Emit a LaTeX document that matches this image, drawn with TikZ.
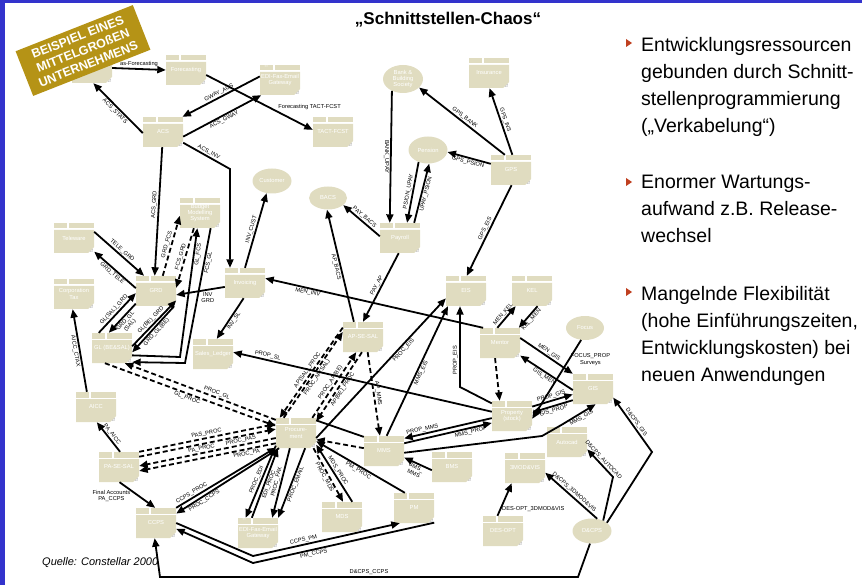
\documentclass[tikz,border=0pt]{standalone}
\usepackage{fontspec}
\setmainfont{Liberation Sans}
\usetikzlibrary{shapes.geometric,arrows.meta,positioning}
\definecolor{appbeige}{RGB}{224,220,192}
\definecolor{bannergold}{RGB}{181,147,22}
\definecolor{frameblue}{RGB}{51,51,204}
\definecolor{bulletred}{RGB}{192,64,32}
\newcommand\appfont{\fontsize{5.8}{6.3}\selectfont}
\newcommand\lblfont{\fontsize{5.7}{6.2}\selectfont}

\begin{document}
\begin{tikzpicture}[x=1pt,y=-1pt,
	app/.style={minimum width=40pt,minimum height=30pt,inner sep=0pt,text=white,font=\appfont,align=center,
		path picture={
			\fill[appbeige] ([yshift=-7pt]path picture bounding box.north west) -- ([yshift=-7pt]path picture bounding box.north east)
			-- ([yshift=6pt]path picture bounding box.south east) -- ([xshift=-6pt]path picture bounding box.south east)
			-- (path picture bounding box.south west) -- cycle;
			\fill[appbeige] (path picture bounding box.north west) rectangle ([xshift=13pt,yshift=-5.5pt]path picture bounding box.north west);
			\fill[appbeige] ([xshift=15pt]path picture bounding box.north west) rectangle ([yshift=-5.5pt]path picture bounding box.north east);
			\draw[black!35,line width=0.3pt] ([xshift=-1.5pt,yshift=1.5pt]path picture bounding box.south east)
			-- ([xshift=-1.5pt,yshift=4pt]path picture bounding box.south east)
			-- ([xshift=-4pt,yshift=1.5pt]path picture bounding box.south east) -- cycle;
		}},
	db/.style={ellipse,fill=appbeige,minimum width=39pt,minimum height=25pt,inner sep=0pt,text=white,font=\appfont,align=center},
	tabtxt/.style={text=white,font=\fontsize{4}{4}\selectfont,inner sep=0pt},
	conn/.style={line width=1.8pt,-{Triangle[length=8.5pt,width=7pt]}},
	dconn/.style={conn,dash pattern=on 5pt off 3pt},
	lbl/.style={font=\lblfont,inner sep=1pt,text=black},
	banner/.style={fill=bannergold,text=white,font=\bfseries\fontsize{12.5}{14.5}\selectfont,align=center,
		minimum width=126pt,minimum height=48pt,inner sep=0pt},
	bul/.style={anchor=north west,align=left,inner sep=0pt,font=\fontsize{19.5}{27}\selectfont}
	]
	\useasboundingbox (0,0) rectangle (862,585);
	\fill[frameblue] (0,0) rectangle (5,585);
	\fill[frameblue] (0,0) rectangle (862,3);

	\node[font=\bfseries\fontsize{17}{20}\selectfont] (ttl) at (448,20) {„Schnittstellen-Chaos“};
	\node[font=\itshape\fontsize{11}{13}\selectfont,anchor=west,inner sep=0pt] (src) at (42,563) {Quelle: Constellar 2000};

	% applications
	\node[app] (stats) at (92,68) {};
	\node[app] (fcst) at (186,70) {Forecasting};
	\node[app] (gway) at (280,80) {EDI-Fax-Email\\Gateway};
	\node[app] (acs) at (163,132) {ACS};
	\node[app] (tact) at (333,132) {TACT-FCST};
	\node[app] (ins) at (489,73) {Insurance};
	\node[app] (gps) at (511,170) {GPS};
	\node[app] (pay) at (400,238) {Payroll};
	\node[app] (eis) at (466,291) {EIS};
	\node[app] (kel) at (532,291) {KEL};
	\node[app] (men) at (500,343) {Mentor};
	\node[app] (gis) at (593,389) {GIS};
	\node[app] (prop) at (512,416) {Property\\(stock)};
	\node[app] (acad) at (567,442) {Autocad};
	\node[app] (vis) at (525,468) {3MOD\&VIS};
	\node[app] (bms) at (452,467) {BMS};
	\node[app] (desopt) at (503,531) {DES-OPT};
	\node[app] (mms) at (384,451) {MMS};
	\node[app] (pm) at (414,508) {PM};
	\node[app] (mds) at (342,517) {MDS};
	\node[app] (proc) at (296,433) {Procure-\\ment};
	\node[app] (edi) at (258,533) {EDI-Fax-Email\\Gateway};
	\node[app] (apsal) at (363,337) {AP-SE-SAL};
	\node[app] (sl) at (213,354) {Sales\_Ledger};
	\node[app] (inv) at (245,283) {Invoicing};
	\node[app] (grd) at (156,291) {GRD};
	\node[app] (bud) at (200,213) {Budget\\Modelling\\System};
	\node[app] (tele) at (74,238) {Teleware};
	\node[app] (ctax) at (74,294) {Corporation\\Tax};
	\node[app] (gl) at (112,348) {GL (BE\&SAL)};
	\node[app] (aicc) at (96,407) {AICC};
	\node[app] (pasal) at (119,467) {PA-SE-SAL};
	\node[app] (ccps) at (156,523) {CCPS};
	\node[tabtxt] (gwaystar) at ([xshift=6.5pt,yshift=-2.75pt]gway.north west) {**};
	\node[tabtxt] (edistar) at ([xshift=6.5pt,yshift=-2.75pt]edi.north west) {**};

	% external parties
	\node[db] (cust) at (272,181) {Customer};
	\node[db,minimum width=40pt,minimum height=28pt] (bank) at (403,79) {Bank \&\\Building\\Society};
	\node[db,minimum height=27pt] (psion) at (428,150) {Pension};
	\node[db,minimum width=38pt,minimum height=23pt] (bacs) at (328,198) {BACS};
	\node[db,minimum width=38pt,minimum height=24pt] (focus) at (585,328) {Focus};
	\node[db] (dcps) at (592,531) {D\&CPS};

	\coordinate (kacsinv) at (230,169);
	\coordinate (kglfcs) at (180,357);
	\coordinate (kfcsgl) at (185,363);
	\coordinate (kpropeis) at (460,387);
	\coordinate (kmmsgis) at (542,436);
	\coordinate (kacad) at (563,424);
	\coordinate (kccpspm) at (253,556);
	\coordinate (kpmccps) at (253,563);
	\coordinate (kdcpsacad) at (613,477);
	\coordinate (kdcpsgis) at (652,452);
	\coordinate (kdcpsa) at (578,577);
	\coordinate (kdcpsb) at (160,577);

	% top left
	\draw[conn] (stats.east) -- node[lbl,above] {as-Forecasting} (fcst.west);
	\draw[conn] (fcst.-14) -- node[lbl,pos=0.66,anchor=south west] {Forecasting TACT-FCST} (tact.174);
	\draw[conn] (gway.170) -- node[lbl,sloped,above] {GWAY\_ACS} (acs.38);
	\draw[conn] (acs.-13) -- node[lbl,sloped,below] {ACS\_GWAY} (gway.219);
	\draw[conn] (acs.183) -- node[lbl,sloped,below] {ACS\_STATS} (stats.-85);
	\draw[conn] (acs.-28) -- node[lbl,sloped,above] {ACS\_INV} (kacsinv) -- (kacsinv |- inv.north);
	\draw[conn] (acs.-93) -- node[lbl,sloped,above,pos=0.45] {ACS\_GRD} (grd.95);

	% GRD, budget, GL
	\draw[dconn] (grd.66) -- node[lbl,sloped,above] {GRD\_FCS} (bud.188);
	\draw[dconn] (bud.248) -- node[lbl,sloped,above] {FCS\_GRD} (grd.9.5);
	\draw[conn] (gl.-20) -- (kglfcs) -- node[lbl,sloped,below,pos=0.8] {GL\_FCS} (bud.-100);
	\draw[conn] (bud.-55) -- node[lbl,sloped,below,pos=0.25] {FCS\_GL} (kfcsgl) -- (gl.-35);
	\draw[conn] (tele.17) -- node[lbl,sloped,above] {TELE\_GRD} (grd.128);
	\draw[conn] (grd.172) -- node[lbl,sloped,below] {GRD\_TELE} (tele.-34);
	\draw[conn] (gl.131) -- node[lbl,sloped,above] {GL(SAL)\_GRD} (grd.186);
	\draw[conn] (grd.212) -- node[lbl,sloped,below,align=center] {GRD\_GL\\(SAL)} (gl.102);
	\draw[conn] (gl.5) -- node[lbl,sloped,above] {GL(BE)\_GRD} (grd.-25);
	\draw[conn] (grd.-40) -- node[lbl,sloped,below] {GRD\_GL(BE)} (gl.-12);

	% invoicing
	\draw[conn] (inv.north) -- node[lbl,sloped,above] {INV\_CUST} (cust.-114);
	\draw[conn] (inv.191) -- node[lbl,below,pos=0.35,yshift=-1pt,align=center] {INV\\GRD} (grd.-11);
	\draw[conn] (inv.-95) -- node[lbl,sloped,below] {INV\_SL} (sl.76);
	\draw[conn] (men.138) -- node[lbl,sloped,below,pos=0.8] {MEN\_INV} (inv.13);
	\draw[conn] (prop.168) -- node[lbl,sloped,above,pos=0.87] {PROP\_SL} (sl.5);

	% payroll
	\draw[conn] (bank.-133) -- node[lbl,midway,rotate=-90,anchor=north] {BANK\_UPAY} (pay.124);
	\draw[conn] (psion.-128) -- node[lbl,sloped,above] {PSION\_UPAY} (pay.65);
	\draw[conn] (pay.47) -- node[lbl,sloped,below] {UPAY\_PSION} (psion.-85);
	\draw[conn] (pay.175) -- node[lbl,sloped,above] {PAY\_BACS} (bacs.-25);
	\draw[conn] (pay.-95) -- node[lbl,sloped,above] {PAY\_AP} (apsal.north);
	\draw[conn] (apsal.121) -- node[lbl,sloped,below] {AP\_BACS} (bacs.-95);

	% GPS
	\draw[conn] (gps.112) -- node[lbl,sloped,above] {GPS\_BANK} (bank.-28);
	\draw[conn] (gps.85) -- node[lbl,sloped,above] {GPS\_INS} (ins.-88);
	\draw[conn] (gps.163) -- node[lbl,sloped,below] {GPS\_PSION} (psion.-6);
	\draw[conn] (gps.-88) -- node[lbl,sloped,above] {GPS\_EIS} (eis.87);

	% AP-SE-SAL and procurement
	\draw[dconn] (apsal.155) -- node[lbl,sloped,above] {AP(SAL)\_PROC} (proc.137);
	\draw[dconn] (proc.129) -- node[lbl,sloped,below] {PROC\_AP(SAL)} (apsal.166);
	\draw[dconn] (proc.43) -- node[lbl,sloped,above] {PROC\_AP(BE)} (apsal.-114);
	\draw[dconn] (apsal.-94) -- node[lbl,sloped,below] {AP(BE)\_PROC} (proc.30);
	\draw[dconn] (apsal.-73) -- node[lbl,sloped,above] {AP\_MMS} (mms.105);

	% EIS, Mentor, GIS
	\draw[conn] (proc.-14) -- node[lbl,sloped,below,pos=0.65] {PROC\_EIS} (eis.200);
	\draw[conn] (mms.80) -- node[lbl,sloped,below] {MMS\_EIS} (eis.220);
	\draw[conn] (prop.148) -- (kpropeis) -- node[lbl,sloped,above,pos=0.33] {PROP\_EIS} (kpropeis |- eis.south);
	\draw[conn] (men.100) -- node[lbl,sloped,above] {MEN\_KEL} (kel.223);
	\draw[conn] (kel.-70) -- node[lbl,sloped,below] {KEL\_MEN} (men.39);
	\draw[conn] (men.14) -- node[lbl,sloped,above] {MEN\_GIS} (gis.143);
	\draw[conn] (gis.183) -- node[lbl,sloped,below] {GIS\_MEN} (men.-32);
	\draw[conn] (focus.-108) -- node[lbl,pos=0.25,right,align=center] {FOCUS\_PROP\\Surveys} (prop.-8);
	\draw[dconn] (men.-108) -- (prop.129);
	\draw[conn] (prop.25) -- node[lbl,sloped,above] {PROP\_GIS} (gis.195);
	\draw[conn] (gis.209) -- node[lbl,sloped,below] {GIS\_PROP} (prop.10);
	\draw[conn] (mms.-5) -- (kmmsgis) -- (kacad) -- node[lbl,sloped,below] {MMS\_GIS} (gis.-80);

	% MMS
	\draw[conn] (prop.186) -- node[lbl,sloped,above,pos=0.78] {PROP\_MMS} (mms.32);
	\draw[conn] (mms.21) -- node[lbl,sloped,below,pos=0.75] {MMS\_PROP} (prop.199);
	\draw[conn] (bms.189) -- node[lbl,sloped,below,align=center] {BMS\_\\MMS} (mms.-18);
	\draw[dconn] (mms.172) -- (proc.-18);
	\draw[line width=1.8pt] (proc.32) -- (mms.145);

	% procurement
	\draw[conn] (pm.121) -- node[lbl,sloped,below] {PM\_PROC} (proc.-22);
	\draw[conn] (mds.56) -- node[lbl,sloped,above] {MDS\_PROC} (proc.-30);
	\draw[dconn] (proc.-41) -- node[lbl,sloped,below] {PROC\_MDS} (mds.86);
	\draw[conn] (proc.212) -- node[lbl,sloped,above] {PROC\_EDI} (edi.129);
	\draw[conn] (edi.112) -- node[lbl,sloped,below] {EDI\_PROC} (proc.220);
	\draw[conn] (proc.248) -- node[lbl,sloped,above] {PROC\_FAX} (edi.47);
	\draw[conn] (proc.-59) -- node[lbl,sloped,below] {PROC\_EMAIL} (edi.37);
	\draw[dconn] (pasal.37) -- node[lbl,sloped,above] {PAS\_PROC} (proc.156);
	\draw[dconn] (pasal.27) -- node[lbl,sloped,below,pos=0.45] {PA\_PROC} (proc.169);
	\draw[dconn] (proc.194) -- node[lbl,sloped,above,pos=0.25] {PROC\_PAS} (pasal.3);
	\draw[dconn] (proc.207) -- node[lbl,sloped,below,pos=0.22] {PROC\_PA} (pasal.-11);
	\draw[dconn] (proc.147) -- node[lbl,sloped,above,pos=0.4] {PROC\_GL} (gl.-50);
	\draw[dconn] (gl.-115) -- node[lbl,sloped,below,pos=0.49] {GL\_PROC} (proc.161);
	\draw[conn] (ccps.37) -- node[lbl,sloped,above,pos=0.18] {CCPS\_PROC} (proc.216);
	\draw[conn] (proc.222) -- node[lbl,sloped,below,pos=0.75] {PROC\_CCPS} (ccps.25);

	% bottom left
	\draw[conn] (ccps.east) -- (kccpspm) -- node[lbl,sloped,above,pos=0.35] {CCPS\_PM} (pm.227);
	\draw[conn] (pm.-36) -- node[lbl,sloped,below,pos=0.67] {PM\_CCPS} (kpmccps) -- (ccps.-16);
	\draw[conn] (pasal.86) -- node[lbl,sloped,above] {PA\_AICC} (aicc.-87);
	\draw[conn] (aicc.121) -- node[lbl,sloped,below] {AICC\_CTAX} (ctax.-95);
	\draw[conn] (pasal.-88) -- node[lbl,pos=0.35,anchor=east,yshift=-5pt,align=center] {Final Accounts\\PA\_CCPS} (ccps.93);

	% D&CPS
	\draw[conn] (dcps.43) -- (kdcpsacad) -- node[lbl,sloped,above] {D\&CPS\_AUTOCAD} (acad.-20);
	\draw[conn] (dcps.67) -- node[lbl,sloped,above] {D\&CPS\_3DMOD\&VIS} (vis.-13);
	\draw[conn] (desopt.110) -- node[lbl,right,pos=0.2] {DES-OPT\_3DMOD\&VIS} (vis.229);
	\draw[conn] (dcps.29) -- (kdcpsgis) -- node[lbl,sloped,above] {D\&CPS\_GIS} (gis.-23);
	\draw[conn] (dcps.-99) -- (kdcpsa) -- node[lbl,above] {D\&CPS\_CCPS} (kdcpsb) -- (ccps.-95);

	% banner
	\node[banner,rotate=21.5] (ban) at (83,50.5) {BEISPIEL EINES\\MITTELGROßEN\\UNTERNEHMENS};

	% bullet list
	\foreach \yb in {43,182,292}
		\fill[bulletred] (626,\yb-4) -- (632,\yb) -- (626,\yb+4) -- cycle;
	\node[bul] (b1) at (641,37) {Entwicklungsressourcen\\gebunden durch Schnitt-\\stellenprogrammierung\\(„Verkabelung“)};
	\node[bul] (b2) at (641,175) {Enormer Wartungs-\\aufwand z.B. Release-\\wechsel};
	\node[bul] (b3) at (641,286) {Mangelnde Flexibilität\\(hohe Einführungszeiten,\\Entwicklungskosten) bei\\neuen Anwendungen};
\end{tikzpicture}
\end{document}
